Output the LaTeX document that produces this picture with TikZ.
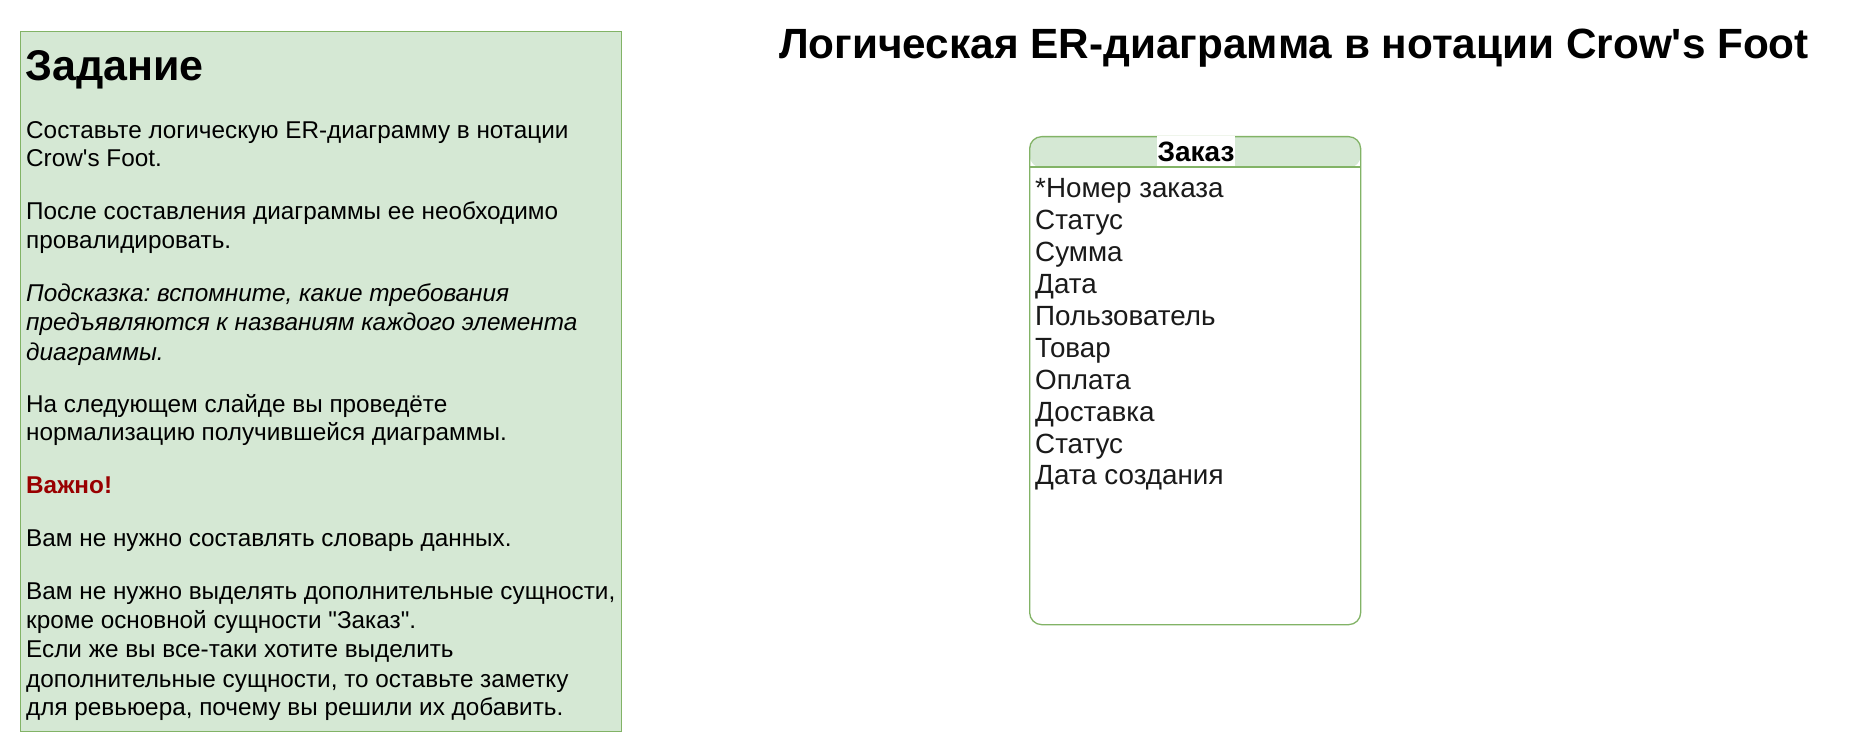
\documentclass[tikz,border=0pt]{standalone}
\usepackage{fontspec}
\setmainfont{Liberation Sans}[Ligatures=TeXOff]
\definecolor{grfill}{HTML}{D5E8D4}
\definecolor{grline}{HTML}{82B366}
\definecolor{imp}{HTML}{990000}
\definecolor{attr}{HTML}{1A1A1A}
\frenchspacing
\begin{document}
\begin{tikzpicture}[x=1pt,y=-1pt,
  txt/.style={anchor=base west, inner sep=0pt, font=\fontsize{24.3}{29}\selectfont},
  itxt/.style={txt, font=\fontsize{24.3}{29}\selectfont\itshape},
  attrtxt/.style={anchor=base west, inner sep=0pt, font=\fontsize{27.8}{32}\selectfont, text=attr},
  greenbox/.style={draw=grline, fill=grfill, line width=1pt, anchor=north west, inner sep=0pt}]
\useasboundingbox[fill=white] (0,0) rectangle (1851,751);
% task box
\node[greenbox, minimum width=601pt, minimum height=700pt] (task) at (20,31) {};
\node[anchor=base west, inner sep=0pt, font=\fontsize{43}{50}\selectfont\bfseries] (head) at (25,81) {Задание};
\node[txt] (l1) at (26,139) {Составьте логическую ER-диаграмму в нотации};
\node[txt] (l2) at (26,167) {Crow's Foot.};
\node[txt] (l3) at (26,220) {После составления диаграммы ее необходимо};
\node[txt] (l4) at (26,249) {провалидировать.};
\node[itxt] (l5) at (26,301) {Подсказка: вспомните, какие требования};
\node[itxt] (l6) at (26,330) {предъявляются к названиям каждого элемента};
\node[itxt] (l7) at (26,360) {диаграммы.};
\node[txt] (l8) at (26,412) {На следующем слайде вы проведёте};
\node[txt] (l9) at (26,440) {нормализацию получившейся диаграммы.};
\node[txt, text=imp, font=\fontsize{24.3}{29}\selectfont\bfseries] (l10) at (26,493) {Важно!};
\node[txt] (l11) at (26,546) {Вам не нужно составлять словарь данных.};
\node[txt] (l12) at (26,599) {Вам не нужно выделять дополнительные сущности,};
\node[txt] (l13) at (26,628) {кроме основной сущности "Заказ".};
\node[txt] (l14) at (26,657) {Если же вы все-таки хотите выделить};
\node[txt] (l15) at (26,687) {дополнительные сущности, то оставьте заметку};
\node[txt] (l16) at (26,715) {для ревьюера, почему вы решили их добавить.};
% title
\node[anchor=base west, inner sep=0pt, font=\fontsize{42.3}{48}\selectfont\bfseries] (title) at (779,59) {Логическая ER-диаграмма в нотации Crow's Foot};
% entity
\node[draw=grline, fill=white, line width=1.3pt, rounded corners=12pt, anchor=north west, inner sep=0pt,
  minimum width=331pt, minimum height=488pt,
  path picture={\fill[grfill] (path picture bounding box.north west) rectangle ([yshift=-31pt]path picture bounding box.north east);}] (entity) at (1029,136) {};
\draw[grline, line width=1.3pt] ([yshift=-31pt]entity.north west) -- ([yshift=-31pt]entity.north east);
\node[fill=white, inner xsep=1pt, inner ysep=0pt, minimum height=30pt, font=\fontsize{28}{32}\selectfont\bfseries] (ename) at (1196,151.5) {Заказ};
\node[attrtxt] (a1) at (1035,198) {*Номер заказа};
\node[attrtxt] (a2) at (1035,229.9) {Статус};
\node[attrtxt] (a3) at (1035,261.7) {Сумма};
\node[attrtxt] (a4) at (1035,293.6) {Дата};
\node[attrtxt] (a5) at (1035,325.5) {Пользователь};
\node[attrtxt] (a6) at (1035,357.3) {Товар};
\node[attrtxt] (a7) at (1035,389.2) {Оплата};
\node[attrtxt] (a8) at (1035,421.1) {Доставка};
\node[attrtxt] (a9) at (1035,453.0) {Статус};
\node[attrtxt] (a10) at (1035,484.8) {Дата создания};
\end{tikzpicture}
\end{document}
